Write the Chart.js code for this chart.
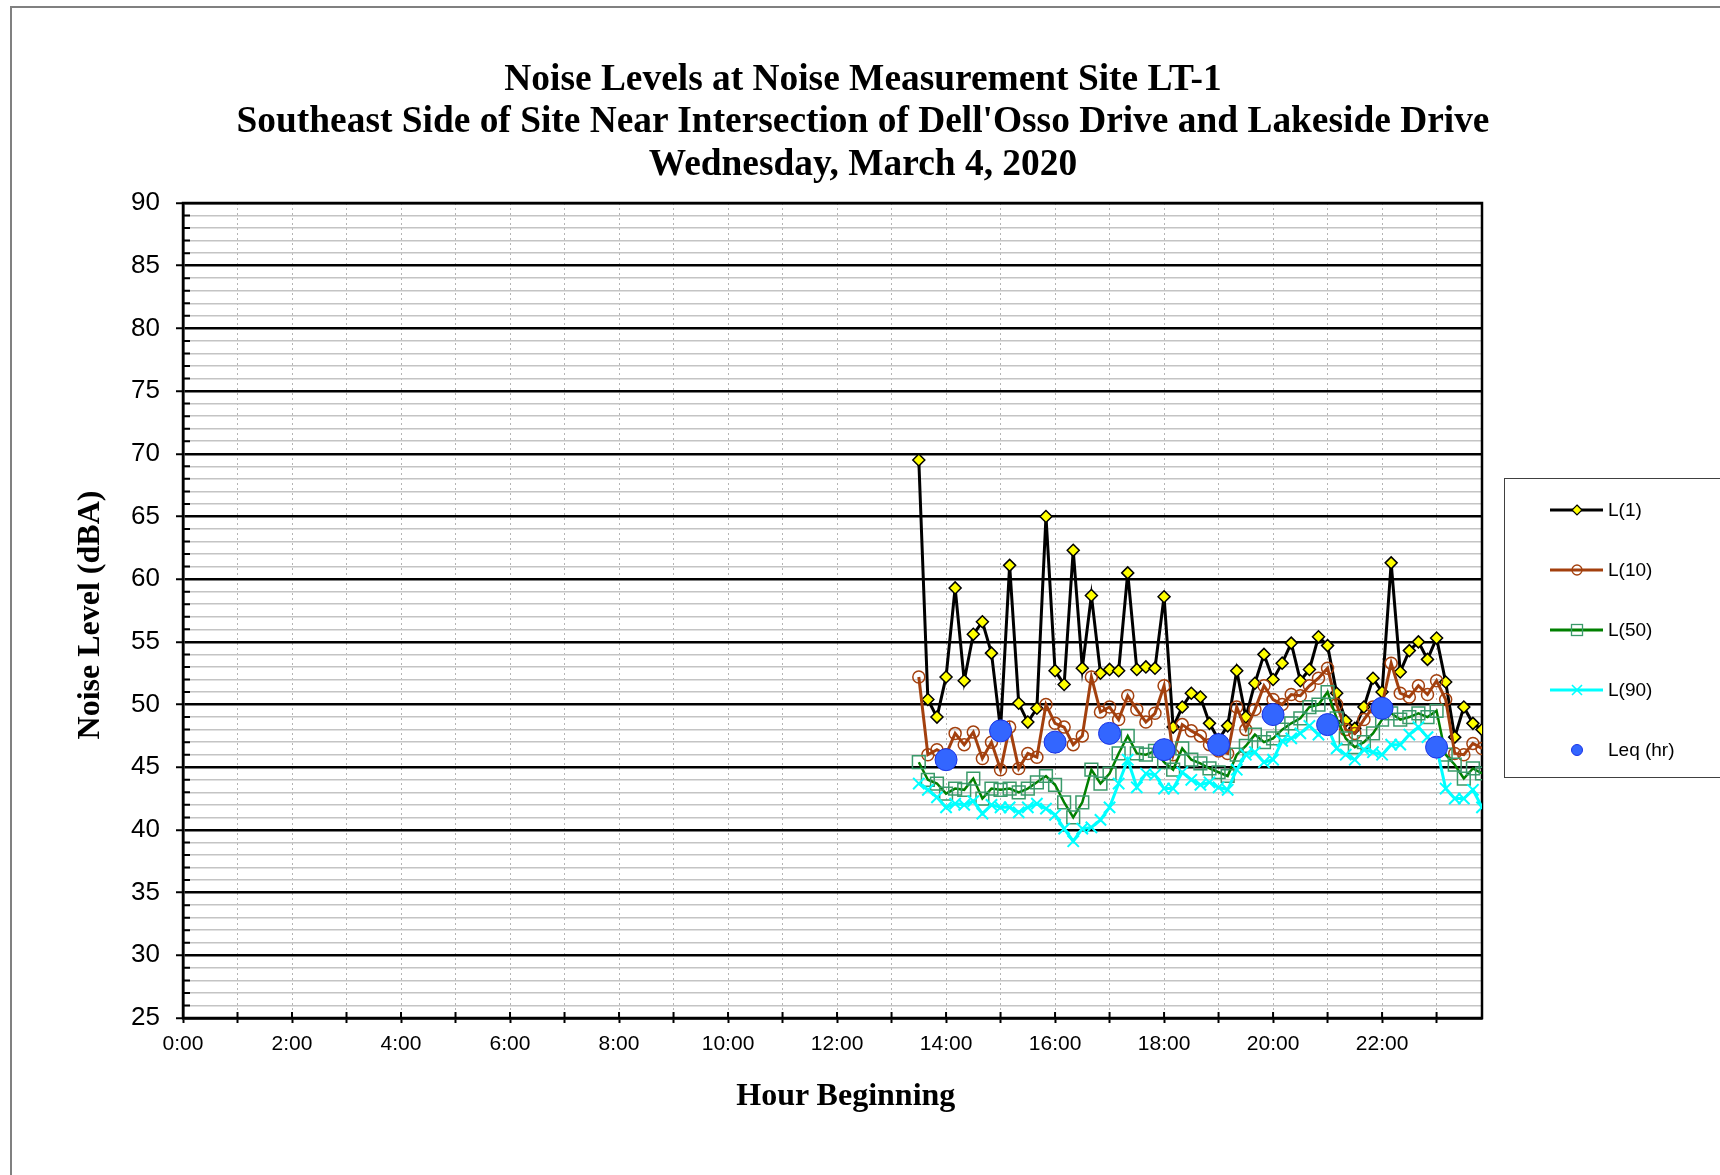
<!DOCTYPE html>
<html>
<head>
<meta charset="utf-8">
<script src="https://cdn.jsdelivr.net/npm/chart.js@4.4.0/dist/chart.umd.min.js"></script>
<style>
  html, body { margin: 0; padding: 0; background: #fff; }
  body { width: 1720px; height: 1175px; position: relative; overflow: hidden; }
  #frame { position: absolute; left: 10px; top: 6px; width: 1800px; height: 1400px; border: 2px solid #808080; box-sizing: border-box; }
  #c { position: absolute; left: 0; top: 0; }
  .serif { font-family: "Liberation Serif", "Times New Roman", serif; font-weight: bold; color: #000; position: absolute; text-align: center; white-space: nowrap; }
  #title { left: 0; width: 1726px; top: 56.7px; font-size: 37.4px; line-height: 42.8px; }
  #xTitle { left: 545.8px; width: 600px; top: 1076.2px; font-size: 32px; line-height: 36px; }
  #yTitle { left: -112px; width: 400px; top: 597px; font-size: 32px; line-height: 36px; transform: rotate(-90deg); }
  #legend { position: absolute; left: 1504px; top: 478px; width: 300px; height: 300px; border: 1.5px solid #404040; box-sizing: border-box; }
  .lgRow { position: absolute; height: 24px; line-height: 24px; font-family: "Liberation Sans", Arial, sans-serif; font-size: 19px; color: #000; white-space: nowrap; }
</style>
</head>
<body>
<div id="frame"></div>
<canvas id="c" width="1720" height="1175"></canvas>
<div id="title" class="serif">Noise Levels at Noise Measurement Site LT-1<br>Southeast Side of Site Near Intersection of Dell'Osso Drive and Lakeside Drive<br>Wednesday, March 4, 2020</div>
<div id="yTitle" class="serif">Noise Level (dBA)</div>
<div id="xTitle" class="serif">Hour Beginning</div>
<div id="legend"></div>
<script>
// 10-minute readings, 13:30 to 23:50
const TIMES = [
  '13:30','13:40','13:50',
  '14:00','14:10','14:20','14:30','14:40','14:50',
  '15:00','15:10','15:20','15:30','15:40','15:50',
  '16:00','16:10','16:20','16:30','16:40','16:50',
  '17:00','17:10','17:20','17:30','17:40','17:50',
  '18:00','18:10','18:20','18:30','18:40','18:50',
  '19:00','19:10','19:20','19:30','19:40','19:50',
  '20:00','20:10','20:20','20:30','20:40','20:50',
  '21:00','21:10','21:20','21:30','21:40','21:50',
  '22:00','22:10','22:20','22:30','22:40','22:50',
  '23:00','23:10','23:20','23:30','23:40','23:50'
];
const L1 = [
  69.5, 50.4, 49.0,
  52.2, 59.3, 51.9, 55.6, 56.6, 54.1,
  48.0, 61.1, 50.1, 48.6, 49.7, 65.0,
  52.7, 51.6, 62.3, 52.9, 58.7, 52.5,
  52.8, 52.7, 60.5, 52.8, 53.0, 52.9,
  58.6, 48.2, 49.8, 50.9, 50.6, 48.5,
  47.2, 48.3, 52.7, 49.0, 51.7, 54.0,
  52.0, 53.3, 54.9, 51.9, 52.8, 55.4,
  54.7, 50.9, 48.7, 48.1, 49.8, 52.1,
  51.0, 61.3, 52.6, 54.3, 55.0, 53.6,
  55.3, 51.8, 47.4, 49.8, 48.5, 48.0
];
const L10 = [
  52.2, 46.0, 46.4,
  46.0, 47.7, 46.8, 47.8, 45.7, 47.0,
  44.8, 48.2, 44.9, 46.1, 45.8, 50.0,
  48.5, 48.2, 46.8, 47.5, 52.2, 49.4,
  49.8, 48.8, 50.7, 49.6, 48.6, 49.3,
  51.5, 46.0, 48.4, 47.9, 47.5, 46.8,
  46.3, 46.1, 49.8, 48.0, 49.6, 51.5,
  50.4, 50.0, 50.8, 50.7, 51.5, 52.1,
  52.9, 50.0, 48.0, 47.7, 48.8, 49.8,
  50.0, 53.3, 50.9, 50.6, 51.5, 50.8,
  51.9, 50.4, 46.1, 46.0, 46.9, 46.5
];
const L50 = [
  45.4, 44.0, 43.7,
  42.9, 43.3, 43.2, 44.1, 42.5, 43.3,
  43.2, 43.3, 43.0, 43.3, 43.8, 44.3,
  43.6, 42.2, 41.0, 42.2, 44.8, 43.7,
  44.5, 46.1, 47.5, 46.1, 46.0, 46.3,
  45.4, 44.8, 46.5, 45.6, 45.3, 44.9,
  44.6, 44.3, 46.0, 46.7, 47.6, 47.0,
  47.3, 48.0, 48.5, 48.9, 49.8, 50.0,
  51.0, 48.9, 47.3, 46.6, 47.0, 47.7,
  48.8, 49.3, 48.8, 49.0, 49.3, 49.0,
  49.5, 46.0, 45.2, 44.1, 44.9, 44.5
];
const L90 = [
  43.7, 43.2, 42.6,
  41.8, 42.1, 42.0, 42.3, 41.3, 42.0,
  41.8, 41.8, 41.4, 41.8, 42.1, 41.7,
  41.2, 40.1, 39.1, 40.1, 40.2, 40.8,
  41.8, 43.7, 45.6, 43.4, 44.5, 44.4,
  43.3, 43.3, 44.6, 44.0, 43.6, 43.8,
  43.4, 43.2, 44.8, 46.0, 46.2, 45.4,
  45.6, 47.1, 47.3, 47.7, 48.3, 47.6,
  48.2, 46.5, 46.0, 45.6, 46.4, 46.2,
  46.0, 46.8, 46.8, 47.6, 48.2, 47.4,
  46.6, 43.3, 42.5, 42.5, 43.2, 41.8
];
// hourly Leq
const LEQ_TIMES = ['14:00','15:00','16:00','17:00','18:00','19:00','20:00','21:00','22:00','23:00'];
const LEQ = [45.6, 47.9, 47.0, 47.7, 46.4, 46.8, 49.2, 48.4, 49.7, 46.6];

const X_TICK_HOURS = [0,1,2,3,4,5,6,7,8,9,10,11,12,13,14,15,16,17,18,19,20,21,22,23];
const X_END = '23:50';
const Y_MIN = 25, Y_MAX = 90;

function toHours(t){ const p = t.split(':').map(Number); return p[0] + p[1]/60; }
function pts(times, vals){ return times.map((t,i)=>({x: toHours(t), y: vals[i]})); }

const BROWN = '#A3400E';
const SERIES = [
  {label:'L(1)', data: pts(TIMES, L1), borderColor:'#000', borderWidth:3, pointStyle:'rectRot', pointRadius:6, pointBackgroundColor:'#FFFF00', pointBorderColor:'#000', pointBorderWidth:1.5, order:5},
  {label:'L(10)', data: pts(TIMES, L10), borderColor:BROWN, borderWidth:3, pointStyle:'circle', pointRadius:6, pointBackgroundColor:'rgba(0,0,0,0)', pointBorderColor:BROWN, pointBorderWidth:1.5, order:4},
  {label:'L(50)', data: pts(TIMES, L50), borderColor:'#008000', borderWidth:2.5, pointStyle:'rect', pointRadius:9, pointBackgroundColor:'rgba(0,0,0,0)', pointBorderColor:'#3A9A6A', pointBorderWidth:1.5, order:3},
  {label:'L(90)', data: pts(TIMES, L90), borderColor:'#00FFFF', borderWidth:3, pointStyle:'crossRot', pointRadius:8, pointBorderColor:'#00FFFF', pointBorderWidth:2, order:2},
  {label:'Leq (hr)', data: pts(LEQ_TIMES, LEQ), showLine:false, pointStyle:'circle', pointRadius:11, pointBackgroundColor:'#3366FF', pointBorderColor:'#1A33E6', pointBorderWidth:1, order:1}
];

// frame on all sides + tick marks pointing into the plot
const innerTicks = {
  id: 'innerTicks',
  beforeDatasetsDraw(chart){
    const {ctx, chartArea: a, scales: {x, y}} = chart;
    ctx.save();
    ctx.strokeStyle = '#000';
    ctx.lineWidth = 2;
    ctx.beginPath();
    x.ticks.forEach(t=>{ const px = x.getPixelForValue(t.value); ctx.moveTo(px, a.bottom); ctx.lineTo(px, a.bottom - 6); });
    y.ticks.forEach(t=>{ if(t.value % 5 !== 0){ const py = y.getPixelForValue(t.value); ctx.moveTo(a.left, py); ctx.lineTo(a.left + 7, py); } });
    ctx.stroke();
    ctx.lineWidth = 2.5;
    ctx.strokeRect(a.left, a.top, a.right - a.left, a.bottom - a.top);
    ctx.restore();
  }
};

const isMajor = c => c.tick && c.tick.value % 5 === 0;
const sans = '"Liberation Sans", Arial, sans-serif';

new Chart(document.getElementById('c'), {
  type: 'line',
  data: { datasets: SERIES.map(s => Object.assign({tension:0, fill:false}, s)) },
  options: {
    responsive: false,
    animation: false,
    layout: { padding: {top:203, right:238, bottom:0, left:0} },
    plugins: { legend: {display:false}, tooltip: {enabled:false}, title: {display:false} },
    scales: {
      x: {
        type: 'linear', min: 0, max: toHours(X_END),
        afterBuildTicks: s => { s.ticks = X_TICK_HOURS.map(v => ({value: v})); },
        afterFit: s => { s.height = 157; },
        grid: { color:'#b4b4b4', lineWidth:1, tickLength:5, tickColor:'#000', tickWidth:2 },
        border: { display:true, color:'#000', width:2.5, dash:[2,3] },
        ticks: { autoSkip:false, maxRotation:0, padding:9, color:'#000', font:{family:sans, size:21},
                 callback: v => (v % 2 === 0 ? v + ':00' : '') }
      },
      y: {
        min: Y_MIN, max: Y_MAX,
        afterBuildTicks: s => { const t = []; for(let v = Y_MIN; v <= Y_MAX; v++) t.push({value: v}); s.ticks = t; },
        afterFit: s => { s.width = 183; },
        grid: {
          color: c => isMajor(c) ? '#000' : '#c4c4c4',
          lineWidth: c => isMajor(c) ? 2.5 : 1.5,
          tickLength: 7,
          tickColor: c => isMajor(c) ? '#000' : 'rgba(0,0,0,0)',
          tickWidth: 2
        },
        border: { display:true, color:'#000', width:2.5 },
        ticks: { autoSkip:false, padding:16, color:'#000', font:{family:sans, size:26},
                 callback: v => (v % 5 === 0 ? String(v) : '') }
      }
    }
  },
  plugins: [innerTicks]
});

// legend box
const LEGEND_ROWS = [509, 569, 629, 689, 748.5];
const legendEl = document.getElementById('legend');
function markerSvg(s){
  const cx = 31, cy = 12;
  let line = s.showLine === false ? '' : `<line x1="4" y1="${cy}" x2="57" y2="${cy}" stroke="${s.borderColor}" stroke-width="3"/>`;
  let m = '';
  if(s.pointStyle === 'rectRot') m = `<polygon points="${cx},${cy-5} ${cx+5},${cy} ${cx},${cy+5} ${cx-5},${cy}" fill="${s.pointBackgroundColor}" stroke="${s.pointBorderColor}" stroke-width="1.2"/>`;
  else if(s.pointStyle === 'rect') m = `<rect x="${cx-5.5}" y="${cy-5.5}" width="11" height="11" fill="none" stroke="${s.pointBorderColor}" stroke-width="1.3"/>`;
  else if(s.pointStyle === 'crossRot') m = `<path d="M${cx-5} ${cy-5}L${cx+5} ${cy+5}M${cx+5} ${cy-5}L${cx-5} ${cy+5}" stroke="${s.pointBorderColor}" stroke-width="1.6"/>`;
  else if(s.showLine === false) m = `<circle cx="${cx}" cy="${cy}" r="5.5" fill="${s.pointBackgroundColor}" stroke="${s.pointBorderColor}" stroke-width="1"/>`;
  else m = `<circle cx="${cx}" cy="${cy}" r="5" fill="none" stroke="${s.pointBorderColor}" stroke-width="1.3"/>`;
  return `<svg width="62" height="24" style="position:absolute;left:0;top:0">${line}${m}</svg>`;
}
SERIES.forEach((s, i) => {
  const row = document.createElement('div');
  row.className = 'lgRow';
  row.style.left = (1545 - 1504) + 'px';
  row.style.top = (LEGEND_ROWS[i] - 12 - 478) + 'px';
  row.innerHTML = markerSvg(s) + `<span style="position:absolute;left:62px;top:0">${s.label}</span>`;
  legendEl.appendChild(row);
});
</script>
</body>
</html>
